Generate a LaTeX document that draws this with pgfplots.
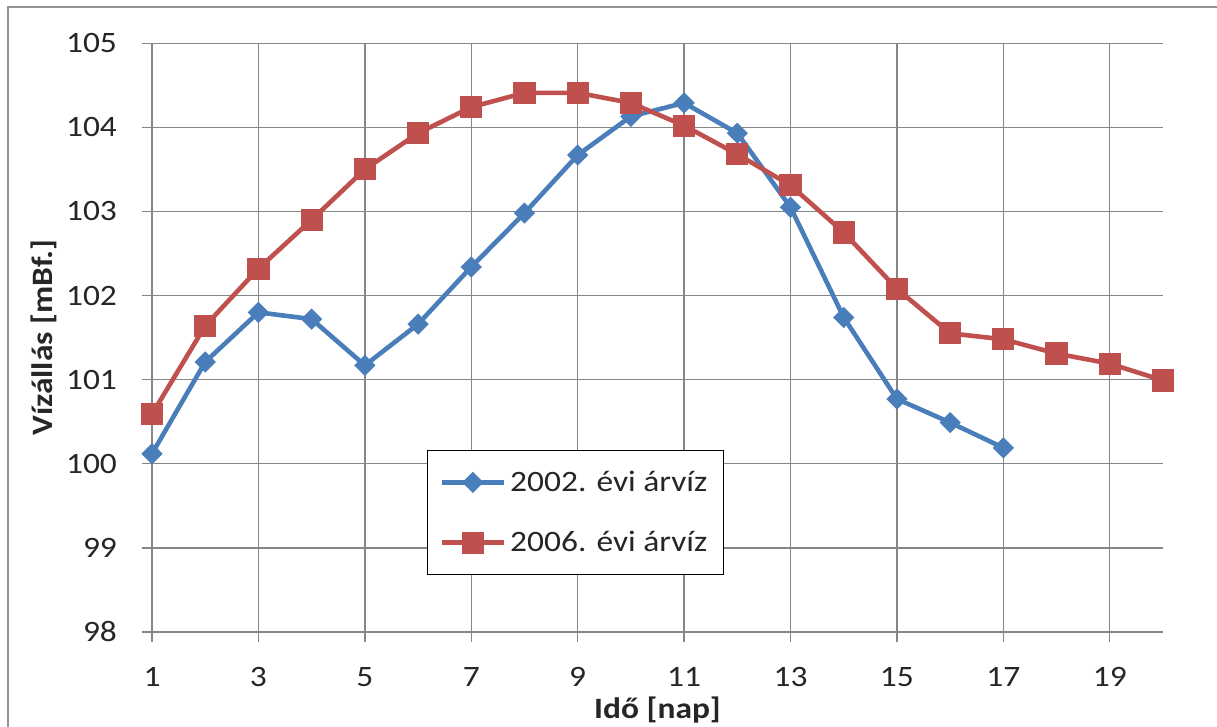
\documentclass[border=0pt]{standalone}
\usepackage{pgfplots}
\pgfplotsset{compat=1.18}
\usepackage{fontspec}
\setmainfont{Carlito}[FakeStretch=1.13]
\definecolor{gridgray}{HTML}{868686}
\definecolor{sblue}{HTML}{4A7EBB}
\definecolor{sred}{HTML}{C0504D}
\definecolor{txt}{HTML}{262626}
\begin{document}
\begin{tikzpicture}
\path[use as bounding box] (-76pt,-47.5pt) rectangle (532.5pt,316pt);
\fill[white] (-76pt,-47.5pt) rectangle (532.5pt,316pt);
\draw[gridgray!90, line width=0.7pt] (-72pt,-60pt) -- (-72pt,312.5pt) -- (545pt,312.5pt);
\begin{axis}[
  scale only axis,
  width=505.5pt, height=294.4pt,
  xmin=1, xmax=20, ymin=98, ymax=105,
  xtick={1,3,...,19}, ytick={98,99,...,105},
  axis lines*=left,
  axis line style={draw=gridgray, line width=0.7pt},
  xmajorgrids, ymajorgrids,
  grid style={draw=gridgray, line width=0.7pt},
  tick align=outside, major tick length=5pt,
  major tick style={draw=gridgray, line width=0.7pt},
  /pgf/number format/assume math mode=true,
  tick label style={font=\fontsize{14.8}{17}\selectfont, text=txt},
  xticklabel style={anchor=base, yshift=-22.5pt},
  yticklabel style={anchor=east, xshift=-9pt},
  label style={font=\fontsize{14.8}{17}\selectfont\bfseries, text=txt},
  xlabel={Idő [nap]},
  ylabel={Vízállás [mBf.]},
  xlabel style={at={([yshift=-43.5pt]axis description cs:0.5,0)}, anchor=base},
  ylabel style={at={([xshift=-54pt]axis description cs:0,0.5)}, anchor=center},
  legend style={at={(0.272,0.309)}, anchor=north west, draw=black, line width=0.6pt,
    inner xsep=6pt, inner ysep=8pt, row sep=14.5pt,
    font=\fontsize{14.8}{17}\selectfont, text=txt,
    nodes={inner sep=2pt}},
  legend cell align=left,
  legend image code/.code={\draw[mark repeat=2,mark phase=2,#1] plot coordinates {(0pt,0pt)(15.5pt,0pt)(31pt,0pt)};},
]
\addplot[sblue, line width=2.3pt, mark=square*, mark size=3.5pt,
  mark options={fill=sblue, draw=sblue, rotate=45, line width=0.5pt}] coordinates {
(1,100.12) (2,101.21) (3,101.80) (4,101.72) (5,101.17) (6,101.66) (7,102.34)
(8,102.98) (9,103.67) (10,104.13) (11,104.29) (12,103.93) (13,103.05)
(14,101.74) (15,100.77) (16,100.49) (17,100.19)};
\addlegendentry{2002. évi árvíz}
\addplot[sred, line width=2.3pt, mark=square*, mark size=5.3pt,
  mark options={fill=sred, draw=sred, line width=0.5pt}] coordinates {
(1,100.59) (2,101.64) (3,102.32) (4,102.90) (5,103.50) (6,103.93) (7,104.24)
(8,104.41) (9,104.41) (10,104.29) (11,104.02) (12,103.68) (13,103.31)
(14,102.75) (15,102.08) (16,101.55) (17,101.48) (18,101.31) (19,101.19) (20,100.99)};
\addlegendentry{2006. évi árvíz}
\end{axis}
\end{tikzpicture}
\end{document}
